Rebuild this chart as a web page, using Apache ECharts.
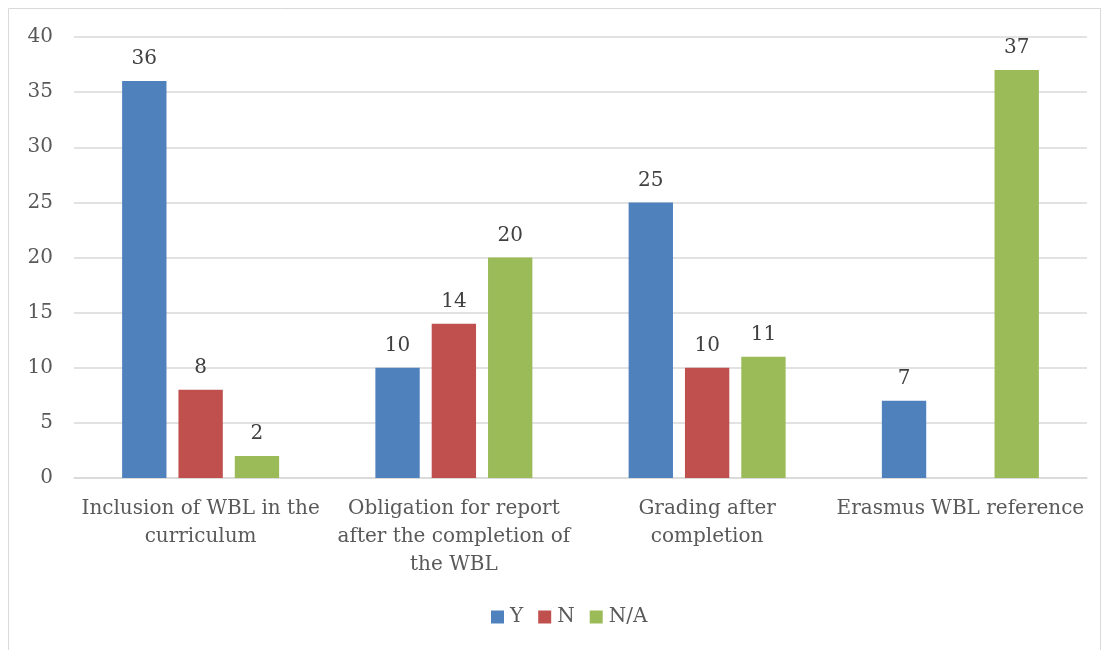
<!DOCTYPE html>
<html><head><meta charset="utf-8">
<script src="https://cdn.jsdelivr.net/npm/echarts@6/dist/echarts.min.js"></script>
<style>html,body{margin:0;padding:0;background:#fff}#c{width:1107px;height:650px}</style>
</head><body><div id="c"></div>
<script>
const categories = ['Inclusion of WBL in the\ncurriculum', 'Obligation for report\nafter the completion of\nthe WBL', 'Grading after\ncompletion', 'Erasmus WBL reference'];
const seriesNames = ['Y', 'N', 'N/A'];
const valuesY = [36, 10, 25, 7];
const valuesN = [8, 14, 10, null];
const valuesNA = [2, 20, 11, 37];
const yTicks = {min: 0, max: 40, interval: 5};
const colors = ['#4F81BD', '#C0504D', '#9BBB59'];
const font = 'DejaVu Serif';
const txt = '#595959';
const chart = echarts.init(document.getElementById('c'));
const mk = (name, data, i) => ({
  name, type: 'bar', data, barGap: '27%', barCategoryGap: '38%',
  itemStyle: {color: colors[i]},
  label: {show: true, position: 'top', distance: 12, color: '#404040', fontFamily: font, fontSize: 20},
  emphasis: {disabled: true}
});
chart.setOption({
  animation: false,
  textStyle: {fontFamily: font},
  graphic: [{type: 'rect', shape: {x: 8.5, y: 8.5, width: 1092, height: 660}, style: {fill: 'none', stroke: '#D9D9D9', lineWidth: 1}}],
  grid: {left: 74, right: 20, top: 37, bottom: 172, containLabel: false},
  legend: {bottom: 18, left: 486, itemWidth: 13, itemHeight: 13, itemGap: 15, icon: 'rect',
    textStyle: {color: txt, fontFamily: font, fontSize: 20, padding: [0, 0, 0, 1]}, data: seriesNames},
  xAxis: {type: 'category', data: categories,
    axisLine: {lineStyle: {color: '#D9D9D9', width: 1.5}}, axisTick: {show: false},
    axisLabel: {color: txt, fontFamily: font, fontSize: 20, lineHeight: 28, margin: 17, interval: 0}},
  yAxis: {type: 'value', min: yTicks.min, max: yTicks.max, interval: yTicks.interval,
    axisLine: {show: false}, axisTick: {show: false},
    splitLine: {lineStyle: {color: '#D9D9D9', width: 1.5}},
    axisLabel: {color: txt, fontFamily: font, fontSize: 20, margin: 21}},
  series: [mk('Y', valuesY, 0), mk('N', valuesN, 1), mk('N/A', valuesNA, 2)]
});
</script></body></html>
